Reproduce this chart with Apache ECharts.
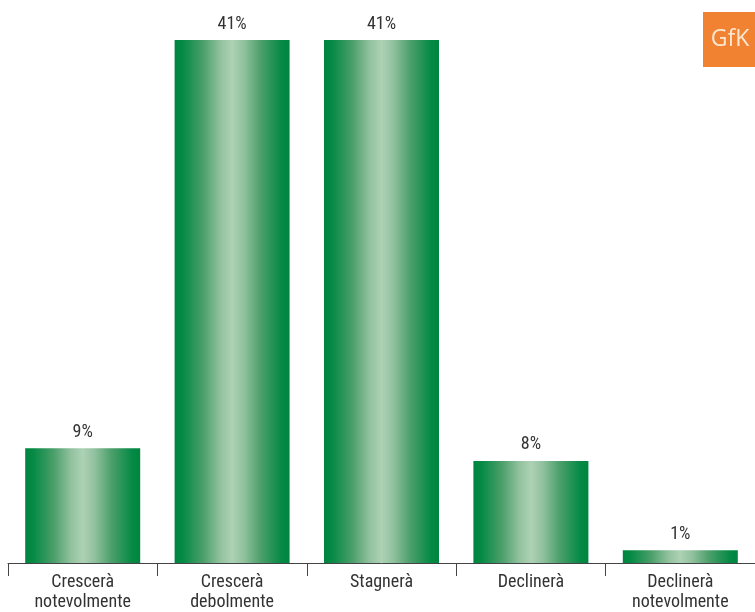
<!DOCTYPE html>
<html>
<head>
<meta charset="utf-8">
<script src="https://cdn.jsdelivr.net/npm/echarts@6/dist/echarts.min.js"></script>
<style>
  html, body { margin: 0; padding: 0; background: #fff; }
  #chart { width: 755px; height: 612px; }
</style>
</head>
<body>
<div id="chart"></div>
<script>
// Expectations for the market
const categories = ['Crescerà\nnotevolmente', 'Crescerà\ndebolmente', 'Stagnerà', 'Declinerà', 'Declinerà\nnotevolmente'];
const shares = [9, 41, 41, 8, 1];

const FONT = '"Liberation Sans Narrow", "Arial Narrow", "Roboto Condensed", "Liberation Sans", sans-serif';

// Cylinder-like shading: dark green edges, pale green centre
const barFill = {
  type: 'linear', x: 0, y: 0, x2: 1, y2: 0,
  colorStops: [
    { offset: 0, color: '#00853f' },
    { offset: 0.07, color: '#058a45' },
    { offset: 0.25, color: '#4c9f6b' },
    { offset: 0.4, color: '#92c29f' },
    { offset: 0.5, color: '#add1b4' },
    { offset: 0.6, color: '#92c29f' },
    { offset: 0.75, color: '#4c9f6b' },
    { offset: 0.93, color: '#058a45' },
    { offset: 1, color: '#00853f' }
  ]
};

const chart = echarts.init(document.getElementById('chart'));
chart.setOption({
  animation: false,
  grid: { left: 8, top: 40, width: 750, height: 525, containLabel: false },
  xAxis: {
    type: 'category',
    data: categories,
    axisLine: { show: true, lineStyle: { color: '#444', width: 1 } },
    axisTick: { show: true, alignWithLabel: false, length: 13, lineStyle: { color: '#444' } },
    axisLabel: { color: '#333', fontFamily: FONT, fontSize: 18, lineHeight: 20, margin: 9 }
  },
  yAxis: {
    type: 'value',
    min: 0,
    max: 41,
    show: false
  },
  series: [{
    type: 'bar',
    data: shares,
    barWidth: 115,
    itemStyle: { color: barFill },
    label: {
      show: true,
      position: 'top',
      distance: 7,
      formatter: '{c}%',
      color: '#333',
      fontFamily: FONT,
      fontSize: 18
    }
  }],
  graphic: [
    { type: 'rect', shape: { x: 703, y: 12, width: 52, height: 55 }, style: { fill: '#f08232' } },
    { type: 'text', style: { x: 730, y: 39, text: 'GfK', fill: '#fbe8d2', font: '23px "Open Sans", "Liberation Sans", sans-serif', textAlign: 'center', textVerticalAlign: 'middle' } }
  ]
});
</script>
</body>
</html>
